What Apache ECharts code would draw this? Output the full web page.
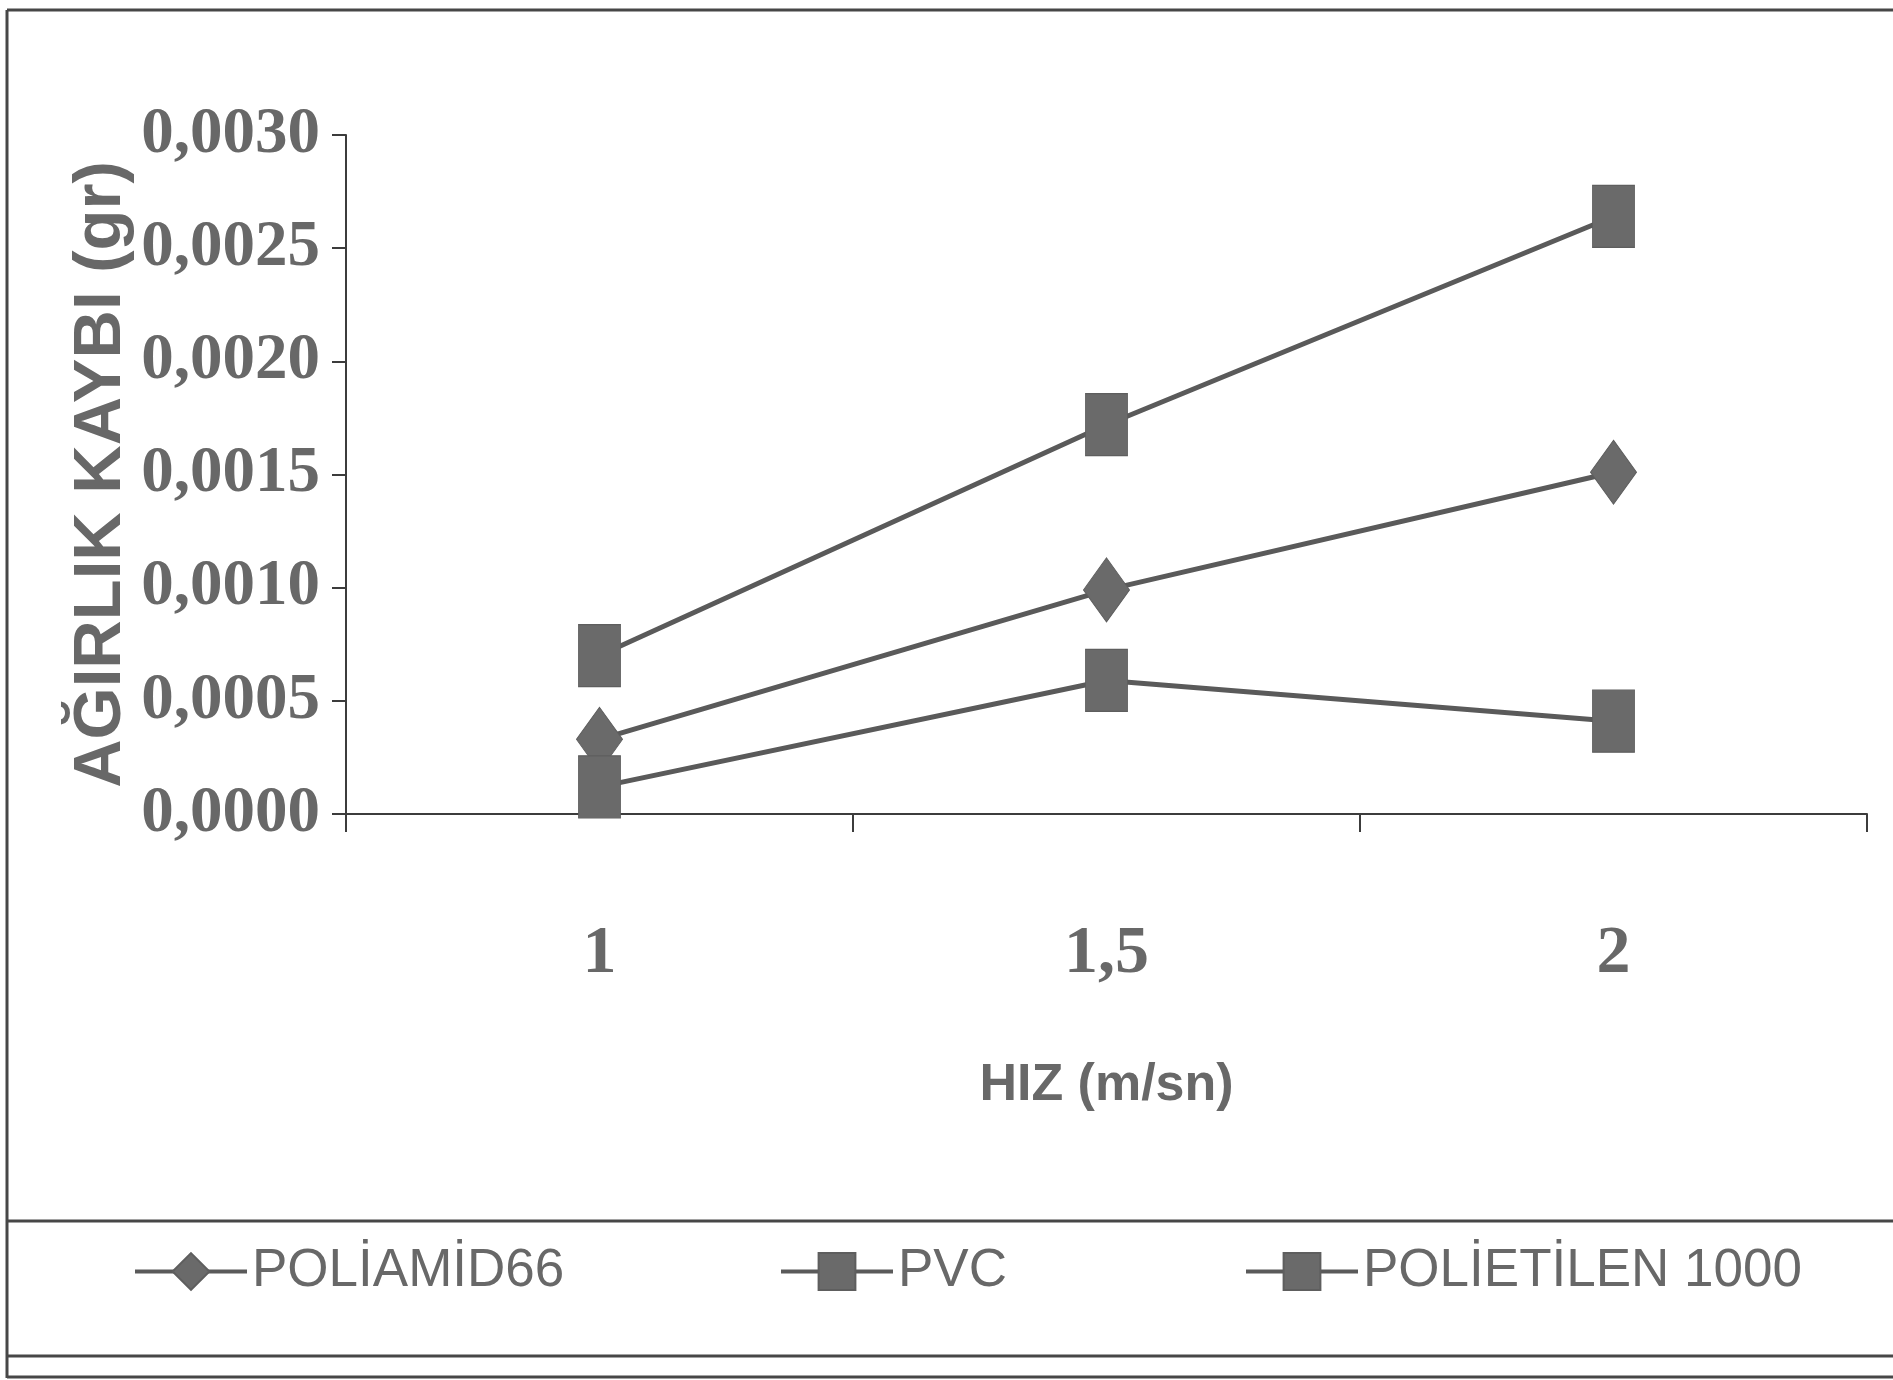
<!DOCTYPE html>
<html>
<head>
<meta charset="utf-8">
<title>Ağırlık kaybı - hız</title>
<script src="https://cdn.jsdelivr.net/npm/echarts@6/dist/echarts.min.js"></script>
<style>
  html, body { margin: 0; padding: 0; background: #ffffff; }
  #chart { width: 1893px; height: 1380px; }
</style>
</head>
<body>
<div id="chart"></div>
<script>
// Speed categories (m/sn)
const speeds = ['1', '1,5', '2'];

// Weight loss (gr) for each material
const poliamid66 = [0.00033, 0.00099, 0.00151];
const pvc = [0.00070, 0.00172, 0.00264];
const polietilen1000 = [0.00012, 0.00059, 0.00041];

const seriesNames = ['POLİAMİD66', 'PVC', 'POLİETİLEN 1000'];

const textGray = '#686868';
const lineGray = '#5a5a5a';
const markGray = '#6a6a6a';
const frameGray = '#474747';

const chart = echarts.init(document.getElementById('chart'));

function legendAt(name, left) {
  return {
    data: [name],
    left: left,
    top: 1245,
    itemWidth: 112,
    itemHeight: 46,
    itemGap: 0,
    padding: 0,
    lineStyle: { width: 4 },
    textStyle: {
      fontFamily: '"Liberation Sans", Arial, sans-serif',
      fontSize: 53,
      color: textGray
    }
  };
}

const option = {
  backgroundColor: '#ffffff',
  animation: false,
  grid: { left: 346, right: 26, top: 135, bottom: 566, containLabel: false },
  legend: [
    legendAt(seriesNames[0], 133),
    legendAt(seriesNames[1], 779),
    legendAt(seriesNames[2], 1244)
  ],
  xAxis: {
    type: 'category',
    data: speeds,
    boundaryGap: true,
    name: 'HIZ (m/sn)',
    nameLocation: 'middle',
    nameGap: 246,
    nameMoveOverlap: false,
    nameTextStyle: {
      fontFamily: '"Liberation Sans", Arial, sans-serif',
      fontWeight: 'bold',
      fontSize: 52,
      color: textGray
    },
    axisLine: { lineStyle: { color: '#3c3c3c', width: 2 } },
    axisTick: { show: true, length: 18, lineStyle: { color: '#3c3c3c', width: 2 } },
    axisLabel: {
      margin: 106,
      fontFamily: '"Liberation Serif", "Times New Roman", serif',
      fontWeight: 'bold',
      fontSize: 68,
      color: textGray
    },
    splitLine: { show: false }
  },
  yAxis: {
    type: 'value',
    min: 0,
    max: 0.003,
    interval: 0.0005,
    name: 'AĞIRLIK KAYBI (gr)',
    nameLocation: 'middle',
    nameRotate: 90,
    nameGap: 211,
    nameMoveOverlap: false,
    nameTextStyle: {
      fontFamily: '"Liberation Sans", Arial, sans-serif',
      fontWeight: 'bold',
      fontSize: 67,
      color: textGray
    },
    axisLine: { show: true, lineStyle: { color: '#3c3c3c', width: 2 } },
    axisTick: { show: true, length: 14, lineStyle: { color: '#3c3c3c', width: 2 } },
    axisLabel: {
      margin: 26,
      fontFamily: '"Liberation Serif", "Times New Roman", serif',
      fontWeight: 'bold',
      fontSize: 65,
      color: textGray,
      formatter: v => v.toFixed(4).replace('.', ',')
    },
    splitLine: { show: false }
  },
  series: [
    {
      name: seriesNames[0],
      type: 'line',
      data: poliamid66,
      symbol: 'diamond',
      symbolSize: [46, 64],
      lineStyle: { color: lineGray, width: 5 },
      itemStyle: { color: markGray, borderColor: '#5e5e5e', borderWidth: 1 }
    },
    {
      name: seriesNames[1],
      type: 'line',
      data: pvc,
      symbol: 'rect',
      symbolSize: [42, 62],
      lineStyle: { color: lineGray, width: 5 },
      itemStyle: { color: markGray, borderColor: '#5e5e5e', borderWidth: 1 }
    },
    {
      name: seriesNames[2],
      type: 'line',
      data: polietilen1000,
      symbol: 'rect',
      symbolSize: [42, 62],
      lineStyle: { color: lineGray, width: 5 },
      itemStyle: { color: markGray, borderColor: '#5e5e5e', borderWidth: 1 }
    }
  ],
  graphic: [
    // outer frame and legend box
    { type: 'line', shape: { x1: 7, y1: 10, x2: 1893, y2: 10 }, style: { stroke: frameGray, lineWidth: 3 } },
    { type: 'line', shape: { x1: 7, y1: 10, x2: 7, y2: 1378 }, style: { stroke: frameGray, lineWidth: 3 } },
    { type: 'line', shape: { x1: 7, y1: 1221, x2: 1893, y2: 1221 }, style: { stroke: frameGray, lineWidth: 3 } },
    { type: 'line', shape: { x1: 7, y1: 1356, x2: 1893, y2: 1356 }, style: { stroke: frameGray, lineWidth: 3 } },
    { type: 'line', shape: { x1: 7, y1: 1377, x2: 1893, y2: 1377 }, style: { stroke: frameGray, lineWidth: 3 } }
  ]
};

chart.setOption(option);
</script>
</body>
</html>
